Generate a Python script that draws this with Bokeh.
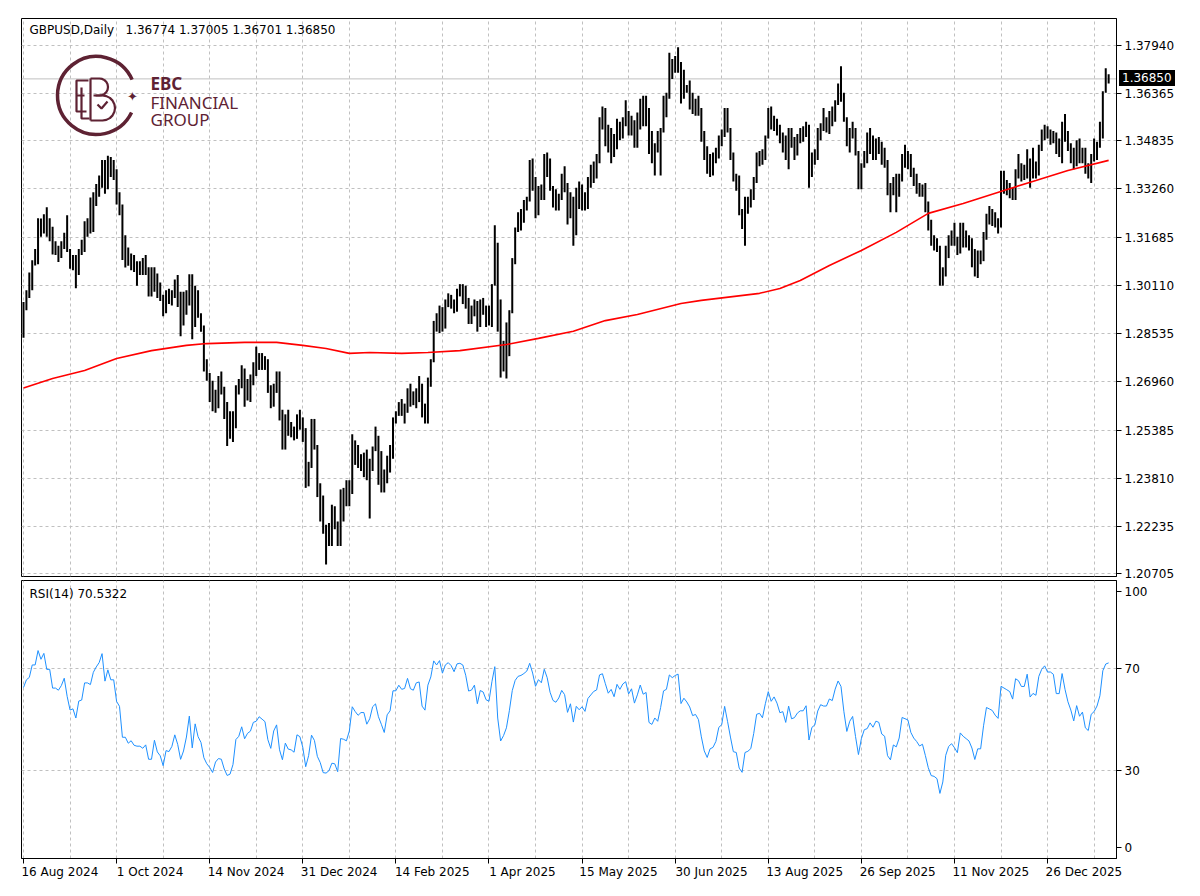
import math
from bokeh.plotting import figure
from bokeh.models import Range1d, FixedTicker, PrintfTickFormatter, Label, Span, Div
from bokeh.layouts import column
from bokeh.embed import file_html
from bokeh.resources import INLINE
from bokeh.core.properties import value

# ---------------- data ----------------
symbol_line = "GBPUSD,Daily\u00a0\u00a0\u00a01.36774 1.37005 1.36701 1.36850"
rsi_line = "RSI(14) 70.5322"
last_price = 1.36850

highs = [
    1.2957, 1.2995, 1.3053, 1.3093, 1.3130, 1.3230, 1.3229, 1.3243, 1.3266, 1.3230,
    1.3202, 1.3155, 1.3140, 1.3155, 1.3183, 1.3240, 1.3130, 1.3110, 1.3110, 1.3130,
    1.3160, 1.3220, 1.3230, 1.3298, 1.3315, 1.3342, 1.3370, 1.3420, 1.3420, 1.3434,
    1.3430, 1.3420, 1.3390, 1.3315, 1.3275, 1.3175, 1.3135, 1.3115, 1.3110, 1.3090,
    1.3090, 1.3100, 1.3110, 1.3070, 1.3070, 1.3070, 1.3050, 1.3020, 1.2980, 1.2995,
    1.3000, 1.2995, 1.3030, 1.3045, 1.2990, 1.2990, 1.2995, 1.3047, 1.3047, 1.3010,
    1.2995, 1.2920, 1.2880, 1.2770, 1.2725, 1.2700, 1.2670, 1.2715, 1.2730, 1.2680,
    1.2630, 1.2600, 1.2600, 1.2685, 1.2705, 1.2750, 1.2740, 1.2705, 1.2720, 1.2760,
    1.2811, 1.2790, 1.2790, 1.2780, 1.2770, 1.2685, 1.2690, 1.2730, 1.2730, 1.2605,
    1.2590, 1.2605, 1.2565, 1.2550, 1.2590, 1.2605, 1.2580, 1.2545, 1.2435, 1.2575,
    1.2575, 1.2490, 1.2365, 1.2325, 1.2230, 1.2235, 1.2295, 1.2290, 1.2240, 1.2345,
    1.2350, 1.2375, 1.2375, 1.2525, 1.2505, 1.2490, 1.2460, 1.2465, 1.2475, 1.2445,
    1.2485, 1.2550, 1.2520, 1.2470, 1.2410, 1.2455, 1.2490, 1.2580, 1.2600, 1.2630,
    1.2640, 1.2625, 1.2675, 1.2690, 1.2665, 1.2675, 1.2715, 1.2690, 1.2625, 1.2710,
    1.2770, 1.2895, 1.2920, 1.2945, 1.2940, 1.2965, 1.2985, 1.2980, 1.2965, 1.3000,
    1.3015, 1.3015, 1.3010, 1.2970, 1.2945, 1.2965, 1.2960, 1.2965, 1.2970, 1.2945,
    1.2945, 1.3015, 1.3207, 1.3150, 1.2965, 1.2830, 1.2890, 1.2930, 1.3100, 1.3200,
    1.3250, 1.3260, 1.3290, 1.3300, 1.3420, 1.3425, 1.3365, 1.3335, 1.3340, 1.3440,
    1.3445, 1.3425, 1.3335, 1.3325, 1.3310, 1.3375, 1.3400, 1.3345, 1.3315, 1.3300,
    1.3330, 1.3350, 1.3340, 1.3315, 1.3365, 1.3405, 1.3415, 1.3440, 1.3560, 1.3595,
    1.3590, 1.3535, 1.3525, 1.3505, 1.3555, 1.3545, 1.3560, 1.3615, 1.3580, 1.3565,
    1.3550, 1.3575, 1.3620, 1.3630, 1.3630, 1.3590, 1.3515, 1.3475, 1.3515, 1.3525,
    1.3630, 1.3640, 1.3770, 1.3750, 1.3760, 1.3788, 1.3740, 1.3715, 1.3665, 1.3680,
    1.3640, 1.3620, 1.3630, 1.3590, 1.3515, 1.3465, 1.3440, 1.3445, 1.3460, 1.3500,
    1.3520, 1.3590, 1.3590, 1.3525, 1.3445, 1.3375, 1.3370, 1.3260, 1.3300, 1.3300,
    1.3325, 1.3365, 1.3445, 1.3450, 1.3455, 1.3500, 1.3590, 1.3595, 1.3565, 1.3555,
    1.3535, 1.3510, 1.3500, 1.3525, 1.3525, 1.3495, 1.3505, 1.3525, 1.3530, 1.3545,
    1.3535, 1.3445, 1.3455, 1.3525, 1.3540, 1.3590, 1.3560, 1.3580, 1.3595, 1.3615,
    1.3670, 1.3726, 1.3640, 1.3560, 1.3525, 1.3545, 1.3525, 1.3450, 1.3410, 1.3450,
    1.3510, 1.3525, 1.3500, 1.3490, 1.3495, 1.3480, 1.3460, 1.3420, 1.3345, 1.3365,
    1.3375, 1.3375, 1.3440, 1.3470, 1.3450, 1.3440, 1.3395, 1.3375, 1.3345, 1.3340,
    1.3345, 1.3285, 1.3225, 1.3175, 1.3165, 1.3140, 1.3070, 1.3140, 1.3175, 1.3190,
    1.3215, 1.3170, 1.3215, 1.3215, 1.3190, 1.3175, 1.3165, 1.3130, 1.3125, 1.3125,
    1.3185, 1.3245, 1.3270, 1.3260, 1.3250, 1.3230, 1.3385, 1.3385, 1.3355, 1.3345,
    1.3330, 1.3390, 1.3440, 1.3410, 1.3405, 1.3455, 1.3425, 1.3460, 1.3415, 1.3470,
    1.3520, 1.3535, 1.3530, 1.3520, 1.3515, 1.3510, 1.3490, 1.3545, 1.3570, 1.3515,
    1.3475, 1.3460, 1.3485, 1.3490, 1.3460, 1.3460, 1.3410, 1.3440, 1.3490, 1.3480,
    1.3545, 1.3645, 1.3720, 1.37005,
]

lows = [
    1.2840, 1.2930, 1.2970, 1.2995, 1.3076, 1.3080, 1.3170, 1.3180, 1.3170, 1.3155,
    1.3112, 1.3110, 1.3087, 1.3100, 1.3130, 1.3120, 1.3065, 1.3060, 1.3002, 1.3045,
    1.3110, 1.3120, 1.3170, 1.3180, 1.3185, 1.3270, 1.3300, 1.3330, 1.3310, 1.3325,
    1.3365, 1.3355, 1.3275, 1.3240, 1.3094, 1.3069, 1.3075, 1.3060, 1.3055, 1.3010,
    1.3045, 1.3045, 1.3045, 1.2975, 1.2975, 1.2990, 1.2970, 1.2960, 1.2910, 1.2920,
    1.2950, 1.2945, 1.2970, 1.2940, 1.2845, 1.2880, 1.2915, 1.2945, 1.2835, 1.2875,
    1.2905, 1.2860, 1.2730, 1.2700, 1.2630, 1.2600, 1.2595, 1.2610, 1.2655, 1.2575,
    1.2487, 1.2510, 1.2500, 1.2545, 1.2655, 1.2675, 1.2615, 1.2635, 1.2630, 1.2685,
    1.2715, 1.2735, 1.2735, 1.2735, 1.2660, 1.2610, 1.2615, 1.2660, 1.2570, 1.2475,
    1.2475, 1.2520, 1.2515, 1.2505, 1.2510, 1.2540, 1.2500, 1.2350, 1.2355, 1.2415,
    1.2475, 1.2320, 1.2240, 1.2200, 1.2100, 1.2160, 1.2160, 1.2215, 1.2160, 1.2160,
    1.2240, 1.2290, 1.2290, 1.2330, 1.2425, 1.2415, 1.2405, 1.2385, 1.2375, 1.2250,
    1.2405, 1.2470, 1.2360, 1.2335, 1.2335, 1.2365, 1.2400, 1.2445, 1.2560, 1.2585,
    1.2585, 1.2560, 1.2595, 1.2615, 1.2620, 1.2610, 1.2630, 1.2580, 1.2560, 1.2560,
    1.2680, 1.2760, 1.2860, 1.2855, 1.2860, 1.2870, 1.2940, 1.2935, 1.2920, 1.2925,
    1.2975, 1.2950, 1.2935, 1.2885, 1.2885, 1.2910, 1.2860, 1.2875, 1.2915, 1.2875,
    1.2880, 1.2875, 1.3010, 1.2860, 1.2710, 1.2730, 1.2707, 1.2780, 1.2920, 1.3080,
    1.3185, 1.3190, 1.3215, 1.3255, 1.3285, 1.3320, 1.3230, 1.3240, 1.3290, 1.3290,
    1.3365, 1.3320, 1.3265, 1.3255, 1.3255, 1.3290, 1.3315, 1.3210, 1.3230, 1.3140,
    1.3175, 1.3260, 1.3255, 1.3255, 1.3260, 1.3330, 1.3345, 1.3360, 1.3410, 1.3520,
    1.3465, 1.3445, 1.3410, 1.3430, 1.3455, 1.3485, 1.3490, 1.3530, 1.3500, 1.3500,
    1.3460, 1.3460, 1.3520, 1.3530, 1.3530, 1.3440, 1.3410, 1.3370, 1.3445, 1.3370,
    1.3510, 1.3560, 1.3620, 1.3685, 1.3705, 1.3705, 1.3605, 1.3620, 1.3640, 1.3585,
    1.3570, 1.3565, 1.3565, 1.3480, 1.3420, 1.3375, 1.3365, 1.3370, 1.3410, 1.3425,
    1.3465, 1.3495, 1.3510, 1.3420, 1.3350, 1.3320, 1.3240, 1.3195, 1.3140, 1.3245,
    1.3265, 1.3290, 1.3345, 1.3400, 1.3405, 1.3420, 1.3490, 1.3520, 1.3515, 1.3500,
    1.3475, 1.3445, 1.3420, 1.3390, 1.3460, 1.3420, 1.3435, 1.3475, 1.3480, 1.3495,
    1.3330, 1.3365, 1.3405, 1.3420, 1.3485, 1.3515, 1.3510, 1.3505, 1.3530, 1.3545,
    1.3600, 1.3610, 1.3545, 1.3465, 1.3445, 1.3490, 1.3435, 1.3325, 1.3325, 1.3395,
    1.3410, 1.3440, 1.3420, 1.3420, 1.3440, 1.3405, 1.3395, 1.3305, 1.3250, 1.3305,
    1.3250, 1.3300, 1.3350, 1.3395, 1.3390, 1.3365, 1.3335, 1.3310, 1.3300, 1.3300,
    1.3250, 1.3190, 1.3140, 1.3125, 1.3120, 1.3010, 1.3010, 1.3040, 1.3100, 1.3140,
    1.3140, 1.3110, 1.3115, 1.3135, 1.3135, 1.3125, 1.3070, 1.3040, 1.3035, 1.3080,
    1.3090, 1.3160, 1.3210, 1.3205, 1.3200, 1.3180, 1.3200, 1.3310, 1.3305, 1.3295,
    1.3290, 1.3290, 1.3360, 1.3350, 1.3355, 1.3360, 1.3330, 1.3360, 1.3360, 1.3370,
    1.3450, 1.3485, 1.3490, 1.3470, 1.3475, 1.3440, 1.3430, 1.3410, 1.3480, 1.3450,
    1.3410, 1.3390, 1.3400, 1.3410, 1.3410, 1.3375, 1.3360, 1.3345, 1.3415, 1.3420,
    1.3460, 1.3490, 1.3640, 1.36701,
]

closes = [
    1.2945, 1.2990, 1.3005, 1.3090, 1.3090, 1.3213, 1.3186, 1.3240, 1.3188, 1.3189,
    1.3125, 1.3125, 1.3118, 1.3142, 1.3183, 1.3125, 1.3075, 1.3080, 1.3046, 1.3120,
    1.3125, 1.3215, 1.3215, 1.3210, 1.3280, 1.3315, 1.3345, 1.3415, 1.3330, 1.3410,
    1.3375, 1.3375, 1.3295, 1.3275, 1.3120, 1.3120, 1.3085, 1.3095, 1.3070, 1.3065,
    1.3065, 1.3055, 1.3065, 1.2995, 1.2995, 1.3050, 1.2995, 1.2975, 1.2920, 1.2965,
    1.2960, 1.2975, 1.3010, 1.2970, 1.2895, 1.2920, 1.2965, 1.3045, 1.2880, 1.2995,
    1.2915, 1.2875, 1.2755, 1.2700, 1.2665, 1.2615, 1.2660, 1.2675, 1.2670, 1.2590,
    1.2530, 1.2535, 1.2570, 1.2675, 1.2690, 1.2735, 1.2665, 1.2690, 1.2700, 1.2740,
    1.2745, 1.2765, 1.2755, 1.2745, 1.2665, 1.2620, 1.2685, 1.2710, 1.2575, 1.2505,
    1.2575, 1.2535, 1.2530, 1.2515, 1.2585, 1.2575, 1.2515, 1.2375, 1.2420, 1.2515,
    1.2480, 1.2360, 1.2305, 1.2205, 1.2200, 1.2210, 1.2240, 1.2235, 1.2170, 1.2315,
    1.2310, 1.2300, 1.2345, 1.2480, 1.2455, 1.2435, 1.2450, 1.2450, 1.2395, 1.2420,
    1.2480, 1.2495, 1.2440, 1.2405, 1.2365, 1.2445, 1.2465, 1.2580, 1.2580, 1.2615,
    1.2600, 1.2605, 1.2665, 1.2630, 1.2625, 1.2665, 1.2670, 1.2590, 1.2575, 1.2705,
    1.2760, 1.2895, 1.2880, 1.2920, 1.2875, 1.2945, 1.2965, 1.2955, 1.2935, 1.2995,
    1.3000, 1.2995, 1.2965, 1.2915, 1.2920, 1.2945, 1.2885, 1.2950, 1.2945, 1.2920,
    1.2915, 1.3010, 1.3110, 1.2890, 1.2735, 1.2765, 1.2810, 1.2920, 1.3085, 1.3190,
    1.3235, 1.3245, 1.3265, 1.3290, 1.3375, 1.3330, 1.3265, 1.3325, 1.3310, 1.3440,
    1.3400, 1.3325, 1.3280, 1.3270, 1.3300, 1.3355, 1.3335, 1.3245, 1.3300, 1.3195,
    1.3300, 1.3280, 1.3300, 1.3275, 1.3360, 1.3385, 1.3410, 1.3420, 1.3535, 1.3545,
    1.3505, 1.3465, 1.3490, 1.3460, 1.3540, 1.3520, 1.3555, 1.3570, 1.3525, 1.3555,
    1.3500, 1.3545, 1.3605, 1.3570, 1.3580, 1.3450, 1.3440, 1.3470, 1.3455, 1.3520,
    1.3615, 1.3625, 1.3725, 1.3715, 1.3730, 1.3740, 1.3630, 1.3660, 1.3645, 1.3625,
    1.3590, 1.3595, 1.3575, 1.3500, 1.3425, 1.3385, 1.3415, 1.3420, 1.3440, 1.3490,
    1.3500, 1.3575, 1.3515, 1.3440, 1.3355, 1.3350, 1.3240, 1.3205, 1.3280, 1.3285,
    1.3295, 1.3355, 1.3445, 1.3450, 1.3430, 1.3500, 1.3570, 1.3530, 1.3555, 1.3530,
    1.3490, 1.3495, 1.3450, 1.3525, 1.3470, 1.3475, 1.3495, 1.3505, 1.3505, 1.3525,
    1.3385, 1.3435, 1.3445, 1.3505, 1.3535, 1.3530, 1.3530, 1.3560, 1.3555, 1.3605,
    1.3645, 1.3630, 1.3550, 1.3470, 1.3510, 1.3530, 1.3440, 1.3335, 1.3400, 1.3440,
    1.3445, 1.3470, 1.3450, 1.3475, 1.3470, 1.3420, 1.3410, 1.3310, 1.3285, 1.3335,
    1.3325, 1.3355, 1.3435, 1.3430, 1.3425, 1.3375, 1.3350, 1.3335, 1.3315, 1.3320,
    1.3270, 1.3205, 1.3155, 1.3150, 1.3135, 1.3020, 1.3050, 1.3130, 1.3160, 1.3170,
    1.3150, 1.3125, 1.3190, 1.3175, 1.3165, 1.3155, 1.3125, 1.3070, 1.3100, 1.3100,
    1.3170, 1.3240, 1.3235, 1.3230, 1.3215, 1.3205, 1.3335, 1.3330, 1.3325, 1.3320,
    1.3300, 1.3390, 1.3385, 1.3370, 1.3370, 1.3425, 1.3365, 1.3380, 1.3375, 1.3460,
    1.3500, 1.3520, 1.3505, 1.3505, 1.3500, 1.3455, 1.3455, 1.3540, 1.3500, 1.3465,
    1.3440, 1.3405, 1.3460, 1.3425, 1.3440, 1.3385, 1.3375, 1.3430, 1.3440, 1.3460,
    1.3500, 1.3630, 1.3677, 1.36850,
]

# red moving average, read at these bar positions
ma_idx = [0, 10, 21, 32, 44, 56, 63, 76, 87, 96, 104, 112, 119, 130, 139, 150, 166, 177,
          189, 200, 211, 226, 233, 253, 260, 267, 277, 288, 300, 311, 323, 337, 348, 359, 373]
ma_val = [1.2676, 1.2707, 1.2733, 1.2772, 1.2798, 1.2815, 1.2821, 1.2825, 1.2825, 1.2815,
          1.2805, 1.2789, 1.2792, 1.2789, 1.2792, 1.2798, 1.2818, 1.2838, 1.2861, 1.2896,
          1.2916, 1.2952, 1.2962, 1.2985, 1.3001, 1.3027, 1.3076, 1.3125, 1.3184, 1.3246,
          1.3278, 1.3321, 1.3353, 1.3386, 1.3419]

price_ticks = [1.37940, 1.36365, 1.34835, 1.33260, 1.31685, 1.30110, 1.28535,
               1.26960, 1.25385, 1.23810, 1.22235, 1.20705]
date_tick_idx = [0, 32, 64, 96, 128, 160, 192, 224, 256, 288, 320, 352]
date_tick_labels = ["16 Aug 2024", "1 Oct 2024", "14 Nov 2024", "31 Dec 2024",
                    "14 Feb 2025", "1 Apr 2025", "15 May 2025", "30 Jun 2025",
                    "13 Aug 2025", "26 Sep 2025", "11 Nov 2025", "26 Dec 2025"]
rsi_ticks = [0, 30, 70, 100]
rsi_levels = [30, 70]
rsi_period = 14
rsi_seed_gain = 0.0025   # Wilder averages at the first visible bar
rsi_seed_loss = 0.0015

n = len(closes)
idx = list(range(n))

# RSI(14) with Wilder smoothing from the closes
ag, al = rsi_seed_gain, rsi_seed_loss
rsi = [100 - 100 / (1 + ag / al)]
for i in range(1, n):
    d = closes[i] - closes[i - 1]
    ag = (ag * (rsi_period - 1) + max(d, 0.0)) / rsi_period
    al = (al * (rsi_period - 1) + max(-d, 0.0)) / rsi_period
    rsi.append(100 - 100 / (1 + ag / al))

# ---------------- layout / styling ----------------
FW, FH1, FH2 = 1095, 558, 278
X0, X1 = -0.69, 375.7
Y0, Y1 = 1.20607, 1.38821
R0, R1 = -4.3, 104.3
PXB = FW / (X1 - X0)
FONT = "DejaVu Sans"
MAROON = "#5e2233"
GRID = "#c0c0c0"
LEFT = 21


def px2x(px):
    return X0 + (px - 21) / PXB


def py2y(py):
    return Y1 - (py - 18) * (Y1 - Y0) / FH1


def py2r(py):
    return R1 - (py - 580) * (R1 - R0) / FH2


p = figure(frame_width=FW, frame_height=FH1, x_range=Range1d(X0, X1), y_range=Range1d(Y0, Y1),
           x_axis_location=None, y_axis_location="right", toolbar_location=None,
           output_backend="svg", min_border_left=LEFT, min_border_top=3,
           min_border_bottom=4, min_border_right=8)
p.outline_line_color = "black"
p.outline_line_width = 1
ya = p.yaxis[0]
ya.ticker = FixedTicker(ticks=price_ticks)
ya.formatter = PrintfTickFormatter(format="%.5f")
ya.major_label_text_font = FONT
ya.major_label_text_font_size = "12px"
ya.major_label_text_color = "black"
ya.major_tick_out = 5
ya.major_tick_in = 0
ya.minor_tick_line_color = None
ya.axis_line_color = "black"
ya.major_label_standoff = 3

grid_idx = list(range(0, 376, 16))
p.xgrid.ticker = FixedTicker(ticks=grid_idx)
p.ygrid.ticker = FixedTicker(ticks=price_ticks)
p.grid.grid_line_color = GRID
p.grid.grid_line_dash = "3 3"

p.add_layout(Span(location=last_price, dimension="width", line_color=GRID,
                  line_width=1, level="underlay"))

p.segment(x0=idx, y0=lows, x1=idx, y1=highs, line_color="black", line_width=2)
p.line(ma_idx, ma_val, line_color="#ff0000", line_width=1.6)

p.add_layout(Label(x=px2x(29), y=py2y(29), text=symbol_line, text_font=FONT,
                   text_font_size="12px", text_baseline="middle", text_color="black"))

# ---- logo (decoration) ----
cx, cy = 96, 95
p.arc(x=[px2x(cx)], y=[py2y(cy)], radius=39, radius_units="screen",
      start_angle=math.radians(24), end_angle=math.radians(334),
      line_color=MAROON, line_width=3.5)


def bump(x0, yt, yb, steps=10):
    rr = (yb - yt) / 2.0
    cyb = (yt + yb) / 2.0
    pts = []
    for k in range(steps + 1):
        a = math.pi / 2 - math.pi * k / steps
        pts.append((x0 + rr * math.cos(a), cyb - rr * math.sin(a)))
    return pts


paths = [
    [(88, 80), (76, 80), (76, 111), (86, 111)],
    [(76, 95), (84, 95)],
    [(81, 87), (81, 118), (89, 118)],
    [(90, 78), (90, 120)],
    [(90, 78), (99, 78)] + bump(99, 78, 95) + [(93, 95)],
    [(95, 95), (102, 95)] + bump(102, 95, 120) + [(90, 120)],
    [(97, 104), (101, 108), (107, 101)],
]
p.multi_line(xs=[[px2x(a) for a, b in pth] for pth in paths],
             ys=[[py2y(b) for a, b in pth] for pth in paths],
             line_color=MAROON, line_width=2.2)
p.text(x=[px2x(132)], y=[py2y(96)], text=["\u2726"], text_font=value("DejaVu Sans"),
       text_font_size="13px", text_align="center", text_baseline="middle", text_color=MAROON)
for t, yb, style in (("EBC", 83, "bold"), ("FINANCIAL", 102, "normal"), ("GROUP", 119, "normal")):
    p.add_layout(Label(x=px2x(150), y=py2y(yb), text=t, text_font="Noto Sans",
                       text_font_size="17px", text_font_style=style, text_color=MAROON,
                       text_baseline="alphabetic"))

# ---------------- RSI panel ----------------
r = figure(frame_width=FW, frame_height=FH2, x_range=p.x_range, y_range=Range1d(R0, R1),
           y_axis_location="right", toolbar_location=None, output_backend="svg",
           min_border_left=LEFT, min_border_top=0, min_border_bottom=4, min_border_right=8)
r.outline_line_color = "black"
r.outline_line_width = 1
ra = r.yaxis[0]
ra.ticker = FixedTicker(ticks=rsi_ticks)
ra.formatter = PrintfTickFormatter(format="%d")
ra.major_label_text_font = FONT
ra.major_label_text_font_size = "12px"
ra.major_label_text_color = "black"
ra.major_tick_out = 5
ra.major_tick_in = 0
ra.minor_tick_line_color = None
ra.axis_line_color = "black"
ra.major_label_standoff = 3

label_pos = [round((i + (len(s) * 6.95 / 2 - 2) / PXB) * 2) / 2
             for i, s in zip(date_tick_idx, date_tick_labels)]
xa = r.xaxis[0]
xa.ticker = FixedTicker(ticks=label_pos, minor_ticks=date_tick_idx)
xa.major_label_overrides = {pos: s for pos, s in zip(label_pos, date_tick_labels)}
xa.major_tick_out = 0
xa.major_tick_in = 0
xa.minor_tick_out = 5
xa.minor_tick_in = 0
xa.minor_tick_line_color = "black"
xa.axis_line_color = "black"
xa.major_label_standoff = 1
xa.major_label_text_font = FONT
xa.major_label_text_font_size = "12px"
xa.major_label_text_color = "black"

r.xgrid.ticker = FixedTicker(ticks=grid_idx)
r.ygrid.ticker = FixedTicker(ticks=rsi_levels)
r.grid.grid_line_color = GRID
r.grid.grid_line_dash = "3 3"

r.line(idx, rsi, line_color="#1e90ff", line_width=1)
r.add_layout(Label(x=px2x(29), y=py2r(593), text=rsi_line, text_font=FONT,
                   text_font_size="12px", text_baseline="middle", text_color="black"))

# window top line and the current-price tag on the price scale
tag_html = ('<div style="position:fixed;left:1119px;top:70px;z-index:10;background:#000;'
            'color:#fff;font-family:\'DejaVu Sans\';font-size:12px;line-height:14px;'
            'padding:1px 3px;white-space:nowrap">%.5f</div>' % last_price)
top_html = ('<div style="height:4px;border-bottom:1px solid #000;margin-left:20px;'
            'width:1105px"></div>' + tag_html)
top_line = Div(text=top_html, width=1140, height=5)

layout = column(top_line, p, r, spacing=0)
open("out.html", "w").write(file_html(layout, INLINE))
